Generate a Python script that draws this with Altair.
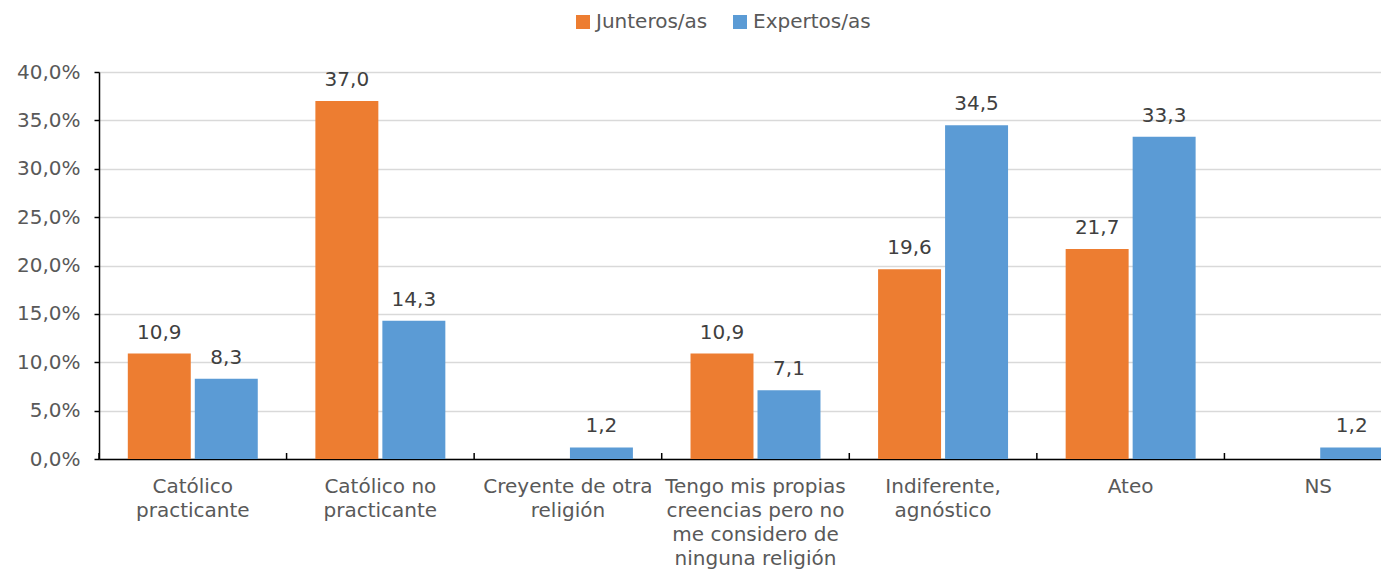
import altair as alt
import pandas as pd

categories = ["Católico practicante", "Católico no practicante", "Creyente de otra religión",
              "Tengo mis propias creencias pero no me considero de ninguna religión",
              "Indiferente, agnóstico", "Ateo", "NS"]
label_lines = [["Católico", "practicante"], ["Católico no", "practicante"],
               ["Creyente de otra", "religión"],
               ["Tengo mis propias", "creencias pero no", "me considero de", "ninguna religión"],
               ["Indiferente,", "agnóstico"], ["Ateo"], ["NS"]]
series = ["Junteros/as", "Expertos/as"]
junteros = [10.9, 37.0, 0.0, 10.9, 19.6, 21.7, 0.0]
expertos = [8.3, 14.3, 1.2, 7.1, 34.5, 33.3, 1.2]
colors = ["#ED7D31", "#5B9BD5"]

rows = []
for c, j, e in zip(categories, junteros, expertos):
    rows.append({"cat": c, "serie": series[0], "v": j})
    rows.append({"cat": c, "serie": series[1], "v": e})
df = pd.DataFrame(rows)
ticks_df = pd.DataFrame({"cat": categories})

W = 1282          # visible plot width (chart is cropped on the right like the reference)
XR = 1313         # full extent of the category scale
H = 387
FONT = "DejaVu Sans"
FS = 20

label_map = "{" + ",".join(
    "'" + c + "':[" + ",".join("'" + l + "'" for l in ls) + "]"
    for c, ls in zip(categories, label_lines)) + "}"
label_expr = label_map + "[datum.label]"

x = alt.X("cat:N", sort=categories, title=None,
          scale=alt.Scale(paddingInner=0, paddingOuter=0, range=[0, XR]),
          axis=alt.Axis(labelExpr=label_expr, labelAngle=0, ticks=False,
                        labelPadding=17, labelBaseline="top", labelLineHeight=24.3,
                        labelFontSize=FS, labelColor="#595959", labelFont=FONT,
                        domainColor="#000000", domainWidth=1.5, labelLimit=300))
xoff = alt.XOffset("serie:N", sort=series,
                   scale=alt.Scale(paddingInner=0.06, paddingOuter=0.43))
color = alt.Color("serie:N", sort=series,
                  scale=alt.Scale(domain=series, range=colors),
                  legend=alt.Legend(title=None, orient="none", legendX=474, legendY=-60,
                                    direction="horizontal", symbolType="square",
                                    symbolSize=196, symbolStrokeWidth=0, labelFontSize=FS,
                                    labelColor="#595959", labelFont=FONT, columnPadding=22,
                                    labelOffset=3, symbolOpacity=1))

y = alt.Y("v:Q", title=None,
          scale=alt.Scale(domain=[0, 40]),
          axis=alt.Axis(values=[0, 5, 10, 15, 20, 25, 30, 35, 40],
                        labelExpr="replace(format(datum.value, '.1f'), '.', ',') + '%'",
                        labelFontSize=FS, labelColor="#595959", labelFont=FONT,
                        tickColor="#000000", tickSize=5, tickWidth=1.5, labelPadding=14,
                        domainColor="#000000", domainWidth=1.5,
                        gridColor="#d9d9d9", gridWidth=1.5))

base = alt.Chart(df).encode(x=x, xOffset=xoff)
bars = base.mark_bar(opacity=1).encode(y=y, color=color)
texts = base.transform_filter("datum.v > 0").transform_calculate(
    lbl="replace(format(datum.v, '.1f'), '.', ',')"
).mark_text(baseline="alphabetic", dy=-15, fontSize=FS, color="#404040", font=FONT).encode(
    y=alt.Y("v:Q"), text="lbl:N")
tick_rules = alt.Chart(ticks_df).mark_rule(color="#000000", strokeWidth=1.5).encode(
    x=alt.X("cat:N", sort=categories, bandPosition=0),
    y=alt.value(H), y2=alt.value(H - 6))

chart = alt.layer(bars, texts, tick_rules).properties(
    width=W, height=H,
    autosize=alt.AutoSizeParams(type="none"),
    padding={"left": 91, "top": 64, "right": 0, "bottom": 116}
).configure_view(stroke=None).configure(font=FONT)

chart.save("out.html", embed_options={"renderer": "svg", "actions": False})
